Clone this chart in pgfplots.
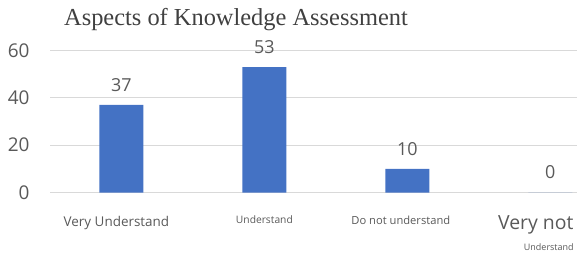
\documentclass[border=0pt]{standalone}
\usepackage{fontspec}
\setmainfont{Open Sans}
\newfontfamily\titlefont{Liberation Serif}
\usepackage{pgfplots}
\pgfplotsset{compat=1.18}
\definecolor{barblue}{HTML}{4472C4}
\definecolor{txtgray}{HTML}{595959}
\definecolor{gridgray}{HTML}{D9D9D9}
\begin{document}
\begin{tikzpicture}
\path[use as bounding box, clip] (0,0) rectangle (577bp,255bp);
\node[anchor=base, text=black!75, font=\titlefont\fontsize{24.5}{28}\selectfont, inner sep=0pt] at (236bp,229bp) {Aspects of Knowledge Assessment};
\begin{axis}[
  at={(50bp,62.5bp)}, anchor=south west,
  scale only axis, width=536bp, height=142bp,
  xmin=-0.5, xmax=3.25, ymin=0, ymax=60,
  ytick={0,20,40,60},
  xtick={0,1,2,3},
  xticklabels={
    {\hspace*{-10bp}\fontsize{13.5}{16}\selectfont Very Understand},
    {\fontsize{10.3}{12}\selectfont Understand},
    {\hspace*{-13bp}\fontsize{11.2}{13}\selectfont Do not understand},
    {\hspace*{-29bp}\fontsize{19.5}{22}\selectfont Very not\\[9bp]\hspace*{-3bp}\fontsize{9}{10}\selectfont Understand}
  },
  xticklabel style={align=center, yshift=-20bp, text=txtgray, anchor=north},
  yticklabel style={text=txtgray, font=\fontsize{19}{22}\selectfont, xshift=-17bp},
  /pgf/number format/assume math mode=true,
  major tick length=0pt,
  axis line style={draw=none},
  ymajorgrids, grid style={gridgray, line width=1bp},
  ybar, bar width=44bp,
  nodes near coords,
  every node near coord/.append style={text=txtgray, font=\fontsize{18}{20}\selectfont, yshift=10bp},
  clip=false,
]
\addplot[fill=barblue, draw=none] coordinates {(0,37) (1,53) (2,10) (3,0)};
\end{axis}
\end{tikzpicture}
\end{document}
